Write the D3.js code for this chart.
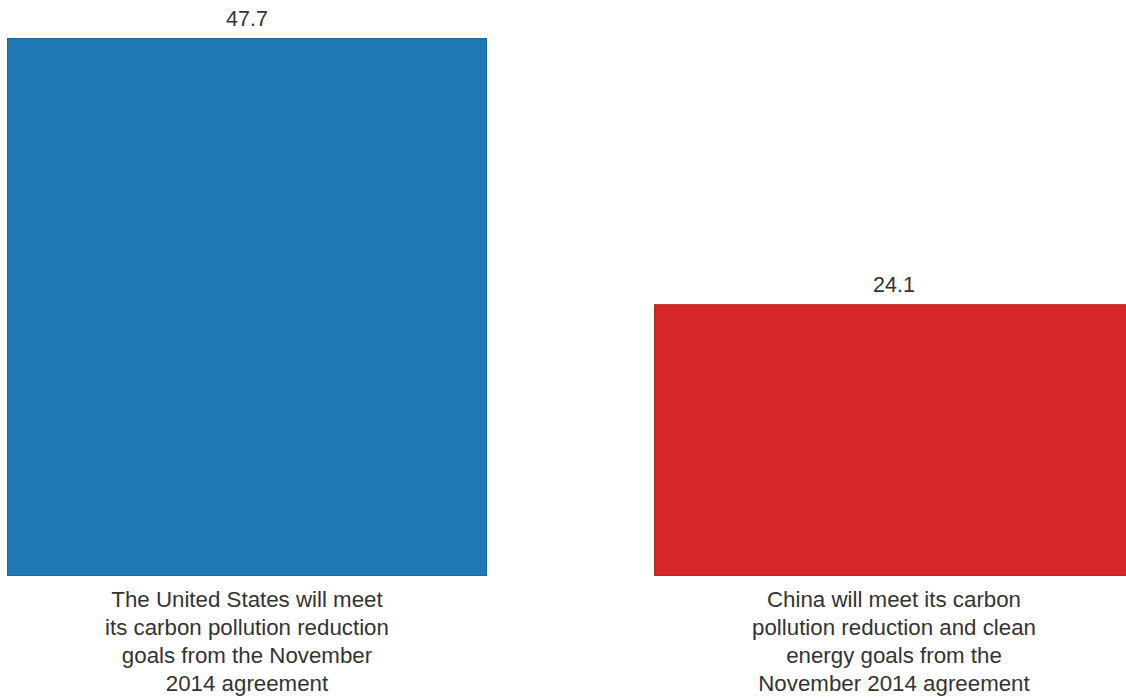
<!DOCTYPE html>
<html>
<head>
<meta charset="utf-8">
<script src="https://cdn.jsdelivr.net/npm/d3@7"></script>
<style>
  html, body { margin: 0; padding: 0; background: #fff; }
  svg { display: block; }
</style>
</head>
<body>
<svg id="chart" width="1126" height="698"></svg>
<script>
// Share of respondents expecting each country to meet its goals
const categories = ["us", "china"];
const values = [47.7, 24.1];
const colors = ["#1f77b4", "#d62728"];
const labelLines = [
  ["The United States will meet", "its carbon pollution reduction", "goals from the November", "2014 agreement"],
  ["China will meet its carbon", "pollution reduction and clean", "energy goals from the", "November 2014 agreement"]
];

const FONT = "'Liberation Sans', 'DejaVu Sans', sans-serif";
const svg = d3.select("#chart");

const left = 7, step = 647, bandW = 480;
const x = d3.scaleBand()
  .domain(categories)
  .range([left, left + step + bandW])
  .paddingInner((step - bandW) / step)
  .paddingOuter(0);

const baseY = 576, topY = 38;
const y = d3.scaleLinear()
  .domain([0, d3.max(values)])
  .range([baseY, topY]);

const data = categories.map((c, i) => ({ key: c, value: values[i], color: colors[i], lines: labelLines[i] }));

const g = svg.append("g");

g.selectAll("rect.bar")
  .data(data)
  .join("rect")
  .attr("class", "bar")
  .attr("x", d => x(d.key) + 0.5)
  .attr("y", d => y(d.value) + 0.5)
  .attr("width", x.bandwidth() - 1)
  .attr("height", d => y(0) - y(d.value) - 1)
  .attr("fill", d => d.color)
  .attr("stroke", d => d3.color(d.color).darker(0.35))
  .attr("stroke-width", 1);

// value labels above bars
g.selectAll("text.value")
  .data(data)
  .join("text")
  .attr("class", "value")
  .attr("x", d => x(d.key) + x.bandwidth() / 2)
  .attr("y", d => y(d.value) - 12)
  .attr("text-anchor", "middle")
  .attr("font-family", FONT)
  .attr("font-size", 21.5)
  .attr("fill", "#333")
  .text(d => d.value.toFixed(1));

// wrapped category labels below bars
const cat = g.selectAll("text.cat")
  .data(data)
  .join("text")
  .attr("class", "cat")
  .attr("text-anchor", "middle")
  .attr("font-family", FONT)
  .attr("font-size", 22.3)
  .attr("fill", "#333");

cat.selectAll("tspan")
  .data(d => d.lines.map(l => ({ line: l, cx: x(d.key) + x.bandwidth() / 2 })))
  .join("tspan")
  .attr("x", d => d.cx)
  .attr("y", (d, i) => y(0) + 31 + i * 28)
  .text(d => d.line);
</script>
</body>
</html>
